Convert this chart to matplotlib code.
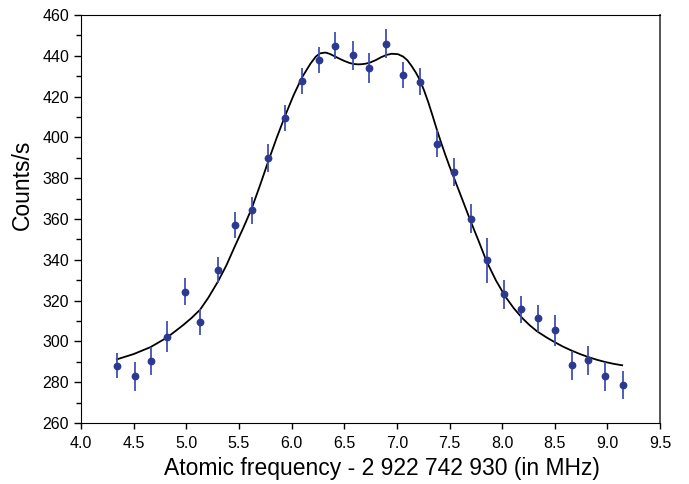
import matplotlib
matplotlib.use("Agg")
import matplotlib.pyplot as plt
from matplotlib.ticker import MultipleLocator

# measured points (MHz offset, counts/s, error)
freq = [4.34, 4.51, 4.66, 4.82, 4.99, 5.13, 5.30, 5.46, 5.62, 5.78, 5.94,
        6.10, 6.26, 6.41, 6.58, 6.74, 6.90, 7.06, 7.22, 7.38, 7.54, 7.70,
        7.86, 8.02, 8.18, 8.34, 8.50, 8.66, 8.82, 8.98, 9.15]
counts = [288.1, 282.9, 290.4, 302.4, 324.4, 309.5, 335.0, 357.0, 364.3, 390.0, 409.5,
          427.8, 438.0, 445.0, 440.2, 434.0, 446.0, 430.6, 427.3, 396.9, 383.0, 360.1,
          339.8, 323.1, 315.7, 311.3, 305.4, 288.3, 290.7, 282.9, 278.6]
err = [6.1, 7.0, 7.0, 7.4, 6.5, 6.5, 6.3, 6.4, 6.7, 7.0, 6.5,
       6.3, 6.2, 6.5, 7.0, 7.2, 7.1, 6.5, 6.5, 6.7, 6.7, 7.1,
       11.0, 7.1, 6.5, 6.5, 7.5, 7.1, 7.1, 7.0, 6.8]

# fitted curve
fit_x = [4.34, 4.50, 4.66, 4.82, 4.97, 5.05, 5.13, 5.21, 5.30, 5.38, 5.46,
         5.54, 5.62, 5.70, 5.78, 5.86, 5.94, 6.02, 6.10, 6.18, 6.23, 6.27,
         6.32, 6.36, 6.40, 6.45, 6.50, 6.55, 6.59, 6.63, 6.67, 6.71, 6.75,
         6.80, 6.85, 6.90, 6.95, 7.01, 7.06, 7.10, 7.14, 7.18, 7.22, 7.26,
         7.30, 7.34, 7.38, 7.42, 7.46, 7.50, 7.54, 7.62, 7.70, 7.78, 7.85,
         7.94, 8.03, 8.11, 8.19, 8.26, 8.33, 8.42, 8.50, 8.58, 8.66, 8.74,
         8.82, 8.90, 8.98, 9.06, 9.14]
fit_y = [291.2, 293.8, 297.2, 302.0, 308.0, 311.5, 315.5, 321.5, 329.3, 337.2, 346.5,
         355.5, 365.0, 376.5, 388.5, 400.0, 410.8, 420.8, 429.5, 436.2, 439.6, 441.2,
         441.6, 441.0, 440.0, 438.7, 437.5, 436.5, 436.0, 435.8, 435.9, 436.2, 436.8,
         437.9, 439.3, 440.4, 441.0, 440.8, 439.6, 437.8, 435.0, 431.8, 428.0, 422.8,
         417.0, 410.5, 403.8, 397.5, 391.5, 385.8, 380.5, 369.8, 359.0, 348.8, 339.5,
         330.0, 322.0, 316.3, 311.5, 308.0, 305.0, 302.0, 299.6, 297.4, 295.5, 293.8,
         292.3, 291.0, 289.9, 289.0, 288.3]

plt.rcParams['font.family'] = ['Liberation Sans', 'DejaVu Sans']

fig = plt.figure(figsize=(6.89, 4.84), dpi=100)
ax = fig.add_axes([0.1176, 0.126, 0.8404, 0.843])

ax.plot(fit_x, fit_y, color='black', lw=1.3, zorder=2)
ax.errorbar(freq, counts, yerr=err, fmt='o', color='#2b3990', ecolor='#4050b5',
            markersize=4.6, elinewidth=1.3, capsize=0, zorder=3)

ax.set_xlim(4.0, 9.5)
ax.set_ylim(260, 460)
ax.xaxis.set_major_locator(MultipleLocator(0.5))
ax.yaxis.set_major_locator(MultipleLocator(20))
ax.yaxis.set_minor_locator(MultipleLocator(10))
ax.xaxis.set_major_formatter(plt.FormatStrFormatter('%.1f'))

ax.tick_params(axis='both', which='both', direction='out', labelsize=11.5, width=1)
ax.tick_params(axis='y', which='major', length=5)
ax.tick_params(axis='y', which='minor', length=3.5)
ax.tick_params(axis='x', which='major', length=4, pad=5)
ax.tick_params(top=False, right=False)

ax.spines['right'].set_color('#555555')
ax.spines['right'].set_linewidth(1.4)

ax.set_xlabel('Atomic frequency - 2 922 742 930 (in MHz)', fontsize=16.5, labelpad=5)
ax.xaxis.label.set_x(0.52)
fig.text(22 / 689, 1 - 185 / 484, 'Counts/s', fontsize=16.5, rotation=90,
         ha='center', va='center')

fig.savefig('out.png', dpi=100)
